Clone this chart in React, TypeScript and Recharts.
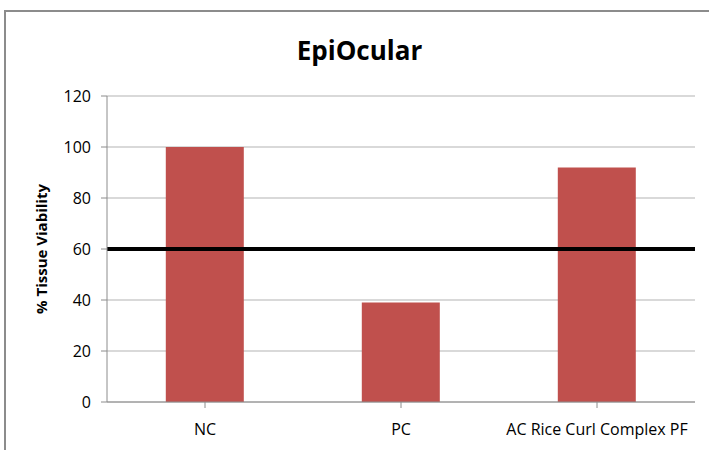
import { Bar, BarChart, CartesianGrid, Cell, ReferenceLine, XAxis, YAxis } from 'recharts';

const categories = ['NC', 'PC', 'AC Rice Curl Complex PF'];
const viability = [100, 39, 92];
const yTicks = [0, 20, 40, 60, 80, 100, 120];
const threshold = 60;

const data = categories.map((name, i) => ({ name, value: viability[i] }));

const font = '"Open Sans", sans-serif';

export default function App() {
  return (
    <div style={{ position: 'absolute', left: 0, top: 0, width: 709, height: 450, overflow: 'hidden', background: '#fff' }}>
      {/* outer frame, right/bottom edges fall outside the picture */}
      <div
        style={{
          position: 'absolute',
          left: 4,
          top: 10,
          width: 740,
          height: 480,
          border: '2px solid #8c8c8c',
        }}
      />
      <div
        style={{
          position: 'absolute',
          left: 5,
          width: 709,
          top: 30,
          textAlign: 'center',
          fontFamily: font,
          fontWeight: 700,
          fontSize: 26,
          lineHeight: '40px',
          color: '#000',
        }}
      >
        EpiOcular
      </div>
      <BarChart
        width={709}
        height={450}
        data={data}
        margin={{ top: 96, right: 14, bottom: 8, left: 47 }}
        barCategoryGap="30%"
        style={{ position: 'absolute', left: 0, top: 0 }}
      >
        <CartesianGrid vertical={false} stroke="#b3b3b3" strokeWidth={1.2} />
        <XAxis
          dataKey="name"
          height={40}
          axisLine={{ stroke: '#8c8c8c' }}
          tickLine={{ stroke: '#8c8c8c' }}
          tickSize={6}
          interval={0}
          tick={{ fill: '#000', fontFamily: font, fontSize: 16 }}
          tickMargin={16}
        />
        <YAxis
          width={60}
          domain={[0, 120]}
          ticks={yTicks}
          axisLine={{ stroke: '#8c8c8c' }}
          tickLine={{ stroke: '#8c8c8c' }}
          tickSize={6}
          tickMargin={10}
          tick={{ fill: '#000', fontFamily: font, fontSize: 16 }}
          label={{
            value: '% Tissue Viability',
            angle: -90,
            position: 'center',
            dx: -35,
            style: { fill: '#000', fontFamily: font, fontWeight: 700, fontSize: 15 },
          }}
        />
        <Bar dataKey="value" fill="#C0504D" isAnimationActive={false}>
          {data.map((d) => (
            <Cell key={d.name} fill="#C0504D" />
          ))}
        </Bar>
        <ReferenceLine y={threshold} stroke="#000" strokeWidth={4} />
      </BarChart>
    </div>
  );
}
